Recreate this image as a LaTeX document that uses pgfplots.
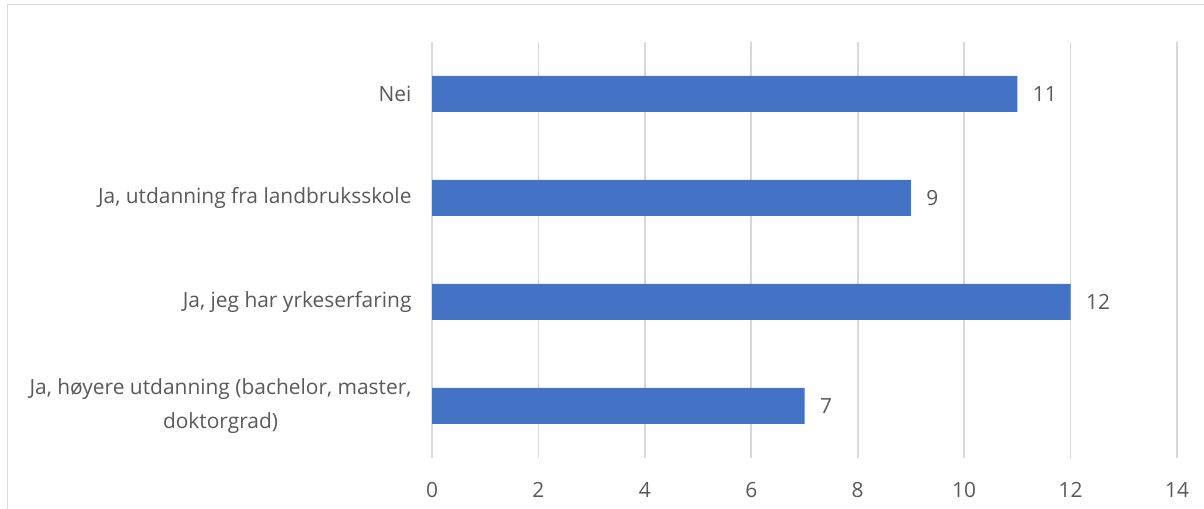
\documentclass[border=0pt]{standalone}
\usepackage{pgfplots}
\pgfplotsset{compat=1.18}
\usepackage{fontspec}
\setmainfont{Open Sans}
\definecolor{barblue}{HTML}{4472C4}
\definecolor{gridgray}{HTML}{D9D9D9}
\definecolor{txt}{HTML}{595959}
\begin{document}
\begin{tikzpicture}[x=1bp,y=1bp]
\path[use as bounding box] (0,0) rectangle (1204,509);
\draw[gridgray, line width=1.5bp] (7.5,0) -- (7.5,504.5) -- (1204,504.5);
\begin{axis}[
 at={(432bp,51bp)}, anchor=south west,
 scale only axis, width=745bp, height=416bp,
 xmin=0, xmax=14, ymin=-0.5, ymax=3.5,
 xtick={0,2,...,14},
 ytick={0,1,2,3},
 yticklabels={{Ja, høyere utdanning (bachelor, master,\\doktorgrad)},{Ja, jeg har yrkeserfaring},{Ja, utdanning fra landbruksskole},{Nei}},
 axis line style={draw=none},
 major tick length=0,
 xmajorgrids, grid style={gridgray, line width=1.6bp},
 tick label style={font=\fontsize{21}{34}\selectfont, text=txt},
 xticklabel style={yshift=-21bp},
 yticklabel style={align=center, xshift=-17bp},
 xbar, bar width=36bp,
 nodes near coords,
 nodes near coords style={font=\fontsize{21}{24}\selectfont, text=txt, xshift=12bp},
 /pgf/number format/assume math mode=true,
 clip=false,
]
\addplot[fill=barblue, draw=none] coordinates {(7,0) (12,1) (9,2) (11,3)};
\end{axis}
\end{tikzpicture}
\end{document}
